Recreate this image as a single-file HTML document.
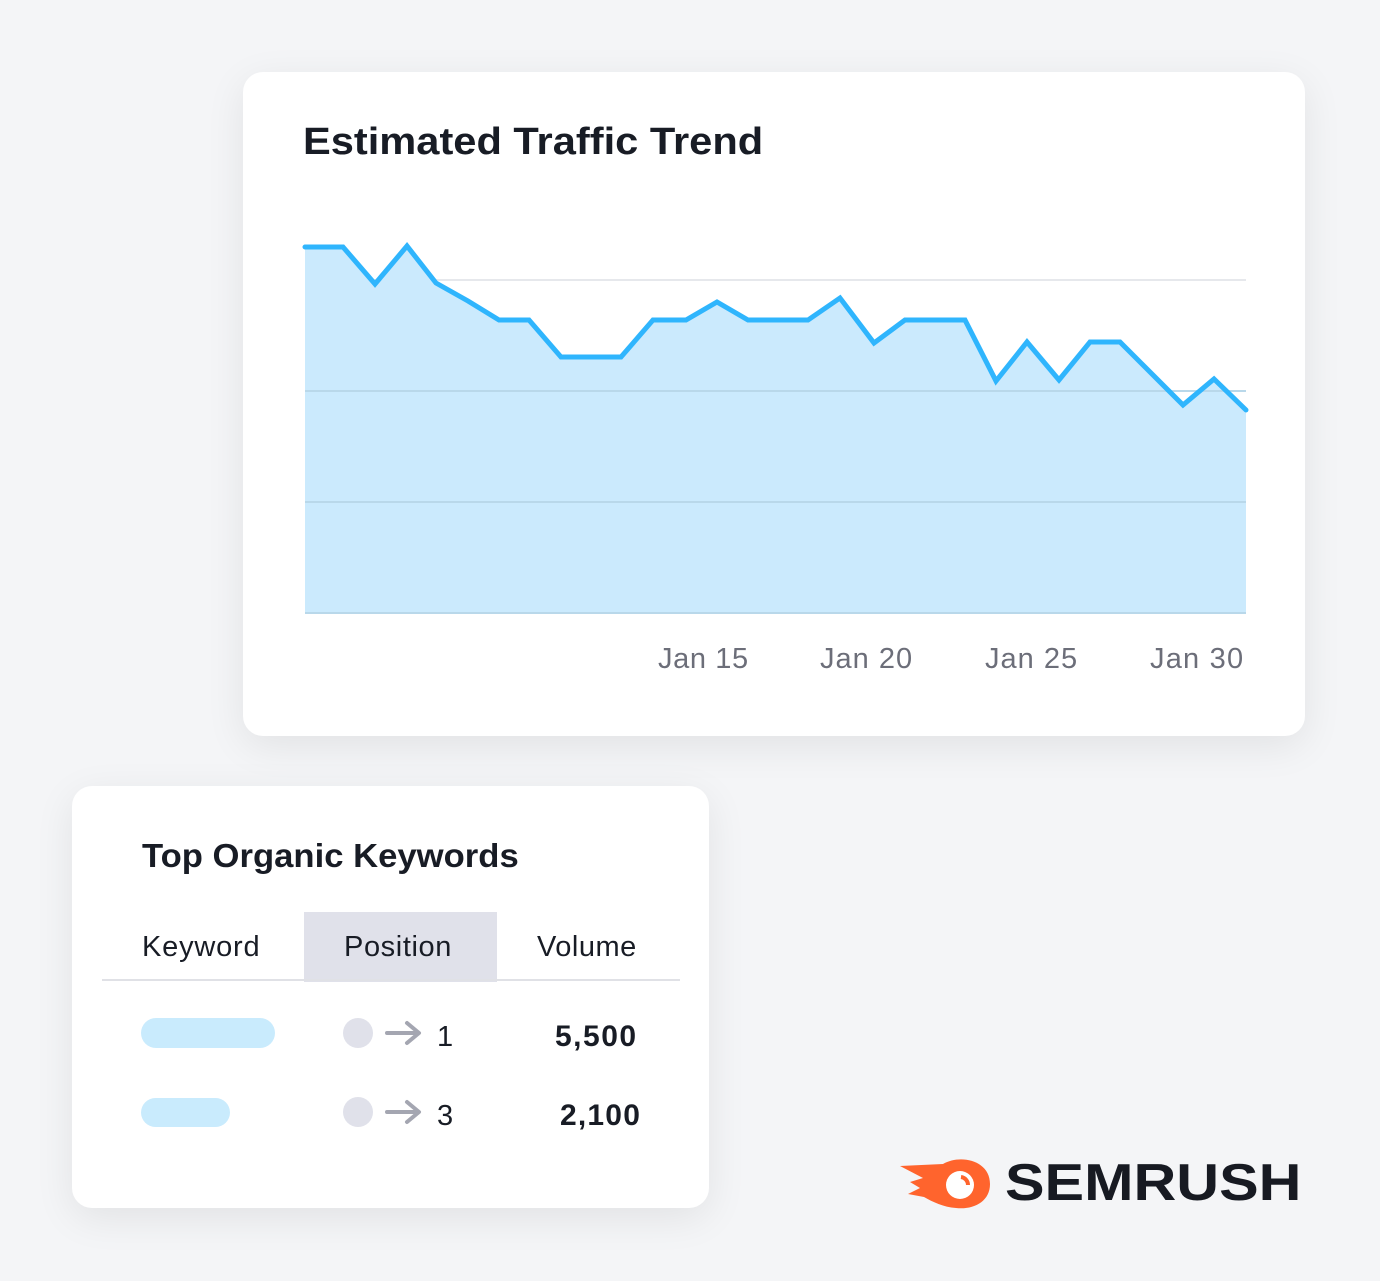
<!DOCTYPE html>
<html><head><meta charset="utf-8"><style>
*{margin:0;padding:0;box-sizing:border-box}
body{width:1380px;height:1281px;background:#f4f5f7;position:relative;overflow:hidden;font-family:"Liberation Sans",sans-serif;color:#181c25}
.card{position:absolute;background:#fff;border-radius:20px;box-shadow:0 10px 40px rgba(0,0,0,0.08)}
.t{position:absolute;white-space:nowrap;transform-origin:0 0}
</style></head><body>
<div class="card" style="left:243px;top:72px;width:1062px;height:664px"></div>
<div class="t" style="left:303px;top:121px;font-size:38px;font-weight:bold;transform:scaleX(1.095)">Estimated Traffic Trend</div>
<svg style="position:absolute;left:0;top:0" width="1380" height="740">
<line x1="305" y1="280" x2="1246" y2="280" stroke="#e6e8ec" stroke-width="2"/>
<polygon fill="#cbeafd" points="305,247 343,247 375,284 407,246 436,283 468,301 499,320 529,320 561,357 621,357 653,320 686,320 717,302 748,320 808,320 840,298 874,343 905,320 965,320 996,381 1027,342 1059,380 1090,342 1120,342 1152,374 1183,405 1214,379 1246,410 1246,613 305,613"/>
<line x1="305" y1="391" x2="1246" y2="391" stroke="#b9d8ea" stroke-width="2"/>
<line x1="305" y1="502" x2="1246" y2="502" stroke="#b9d8ea" stroke-width="2"/>
<line x1="305" y1="613" x2="1246" y2="613" stroke="#b9d8ea" stroke-width="2"/>
<polyline fill="none" stroke="#2fb5fd" stroke-width="5" stroke-linejoin="miter" stroke-linecap="round" points="305,247 343,247 375,284 407,246 436,283 468,301 499,320 529,320 561,357 621,357 653,320 686,320 717,302 748,320 808,320 840,298 874,343 905,320 965,320 996,381 1027,342 1059,380 1090,342 1120,342 1152,374 1183,405 1214,379 1246,410"/>
</svg>
<div class="t" style="left:658px;top:643px;font-size:29px;color:#6c6e79;letter-spacing:0.6px">Jan 15</div>
<div class="t" style="left:820px;top:643px;font-size:29px;color:#6c6e79;letter-spacing:1px">Jan 20</div>
<div class="t" style="left:985px;top:643px;font-size:29px;color:#6c6e79;letter-spacing:1px">Jan 25</div>
<div class="t" style="left:1150px;top:643px;font-size:29px;color:#6c6e79;letter-spacing:1.2px">Jan 30</div>

<div class="card" style="left:72px;top:786px;width:637px;height:422px"></div>
<div class="t" style="left:142px;top:837px;font-size:33px;font-weight:bold;transform:scaleX(1.05)">Top Organic Keywords</div>
<div style="position:absolute;left:304px;top:912px;width:193px;height:70px;background:#e0e1ea"></div>
<div style="position:absolute;left:102px;top:979px;width:578px;height:2px;background:#e0e1e6"></div>
<div class="t" style="left:142px;top:931px;font-size:29px;letter-spacing:0.8px">Keyword</div>
<div class="t" style="left:344px;top:931px;font-size:29px;letter-spacing:0.6px">Position</div>
<div class="t" style="left:537px;top:931px;font-size:29px;letter-spacing:0.5px">Volume</div>
<div style="position:absolute;left:141px;top:1018px;width:134px;height:30px;border-radius:15px;background:#c9ebfd"></div>
<div style="position:absolute;left:141px;top:1098px;width:89px;height:29px;border-radius:15px;background:#c9ebfd"></div>
<div style="position:absolute;left:343px;top:1018px;width:30px;height:30px;border-radius:50%;background:#e0e1ea"></div>
<div style="position:absolute;left:343px;top:1097px;width:30px;height:30px;border-radius:50%;background:#e0e1ea"></div>
<svg style="position:absolute;left:384px;top:1018px" width="40" height="110"><g fill="none" stroke="#a4a6b1" stroke-width="4" stroke-linecap="round" stroke-linejoin="round"><path d="M3 15H34M23 5L35 15L23 25"/><path d="M3 94H34M23 84L35 94L23 104"/></g></svg>
<div class="t" style="left:437px;top:1021px;font-size:29px">1</div>
<div class="t" style="left:437px;top:1100px;font-size:29px">3</div>
<div class="t" style="left:555px;top:1020px;font-size:30px;font-weight:bold;letter-spacing:1.5px">5,500</div>
<div class="t" style="left:560px;top:1099px;font-size:30px;font-weight:bold;letter-spacing:1.2px">2,100</div>

<svg style="position:absolute;left:898px;top:1152px" width="95" height="60">
<path d="M2 14 L45 12 C62 2 92 8 92 32 C92 50 75 58 58 56 C45 55 35 50 26 45 L10 42 L22 36 L12 30 L25 26 Z" fill="#ff642d"/>
<circle cx="62" cy="33" r="14" fill="#fff"/>
<path d="M63 25 A8 8 0 0 1 70 33" stroke="#ff642d" stroke-width="4" fill="none"/>
</svg>
<div class="t" style="left:1005px;top:1153px;font-size:52px;font-weight:bold;color:#171a22;transform:scaleX(1.14)">SEMRUSH</div>
</body></html>
